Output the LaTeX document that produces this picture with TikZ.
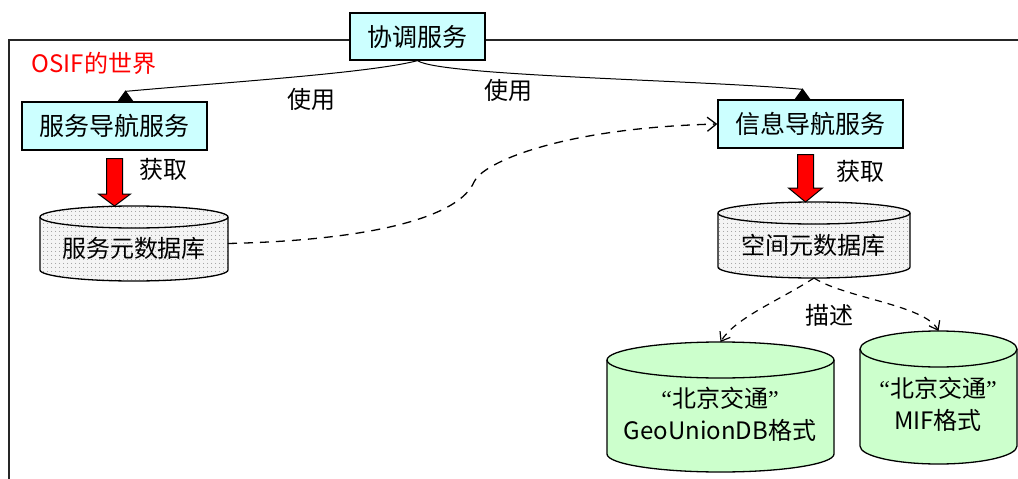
\documentclass[tikz,border=0pt]{standalone}
\usepackage{fontspec}
\setmainfont{Noto Sans CJK SC}
\newfontfamily\qfont{Liberation Serif}
\usetikzlibrary{arrows.meta,calc,patterns.meta}
\definecolor{boxcyan}{HTML}{CCFFFF}
\definecolor{dbgreen}{HTML}{CCFFCC}
\definecolor{dbgray}{HTML}{F4F4F4}
\tikzset{
  svcbox/.style={draw=black, line width=1.3pt, fill=boxcyan, font=\fontsize{25}{28}\selectfont, inner sep=0pt, anchor=center},
  lbl/.style={font=\fontsize{24}{28}\selectfont, inner sep=0pt},
  cyltext/.style={font=\fontsize{24}{32}\selectfont, inner sep=0pt, align=center},
  cylbody/.style={inner sep=0pt, outer sep=0pt},
  cylline/.style={draw=black, line width=1.3pt},
  graydb/.style={fill=dbgray, postaction={pattern={Dots[radius=0.6pt,distance=4pt]}, pattern color=black!45}},
  greendb/.style={fill=dbgreen},
  useline/.style={line width=1pt},
  usetri/.style={fill=black},
  depend/.style={line width=1.3pt, dash pattern=on 9pt off 7pt, -{Straight Barb[length=9pt,width=14pt]}},
  dependb/.style={line width=1.2pt, dash pattern=on 7pt off 6pt, -{Straight Barb[length=8pt,width=12pt]}},
  blockarr/.style={draw=black, line width=1pt, fill=red},
  frameline/.style={line width=1.3pt, draw=black!85},
}
% #1 name, #2 cx, #3 top, #4 bottom, #5 rx, #6 ry, #7 fill style
\newcommand\dbcyl[7]{%
  \path[#7] (#2-#5,#3+#6) -- (#2-#5,#4-#6) arc[start angle=180,end angle=360,x radius=#5pt,y radius=#6pt] -- (#2+#5,#3+#6) arc[start angle=0,end angle=180,x radius=#5pt,y radius=#6pt] -- cycle;
  \draw[cylline] (#2-#5,#3+#6) -- (#2-#5,#4-#6) arc[start angle=180,end angle=360,x radius=#5pt,y radius=#6pt] -- (#2+#5,#3+#6) arc[start angle=0,end angle=180,x radius=#5pt,y radius=#6pt] -- cycle;
  \draw[cylline] (#2-#5,#3+#6) arc[start angle=180,end angle=360,x radius=#5pt,y radius=#6pt];
  \node[cylbody, minimum width={2*#5pt}, minimum height={(#4-#3)*1pt}] (#1) at (#2,{(#3+#4)/2}) {};
}
% #1 start of shaft (top centre), #2 tip, #3 half shaft, #4 half head, #5 head length
\newcommand\blockarrow[5]{%
  \draw[blockarr] ($(#1)+(-#3,0)$) -- ($(#1)+(#3,0)$) -- ($(#2)+(#3,-#5)$) -- ($(#2)+(#4,-#5)$) -- (#2) -- ($(#2)+(-#4,-#5)$) -- ($(#2)+(-#3,-#5)$) -- cycle;
}
% upright filled triangle standing on point #1
\newcommand\usetriangle[1]{%
  \fill[usetri] ($(#1)+(-8,0)$) -- ($(#1)+(0,-11)$) -- ($(#1)+(8,0)$) -- cycle;
}
\begin{document}
\begin{tikzpicture}[x=1pt,y=-1pt]
\useasboundingbox (0,0) rectangle (1018,479);
\fill[white] (0,0) rectangle (1018,479);

% frame of the world
\draw[frameline] (1018,40) -- (9,40) -- (9,479);

% service boxes
\node[svcbox, minimum width=135pt, minimum height=47pt] (coord) at (417.5,36.5) {协调服务};
\node[svcbox, minimum width=185pt, minimum height=48pt] (nav1) at (114.5,126) {服务导航服务};
\node[svcbox, minimum width=185pt, minimum height=48pt] (nav2) at (810.5,124) {信息导航服务};

\node[lbl, text=red] (world) at (94,63) {OSIF的世界};

% databases
\dbcyl{db1}{134}{206}{281}{94}{11}{graydb}
\dbcyl{db2}{814}{202}{278}{96}{11}{graydb}
\dbcyl{geo}{720.5}{342}{472}{113.5}{18}{greendb}
\dbcyl{mif}{938.5}{331}{464}{78.5}{18}{greendb}

\node[lbl] (db1t) at (134,248) {服务元数据库};
\node[lbl] (db2t) at (813,245) {空间元数据库};
\node[cyltext] (geot) at (720,414) {{\qfont “}北京交通{\qfont ”}\\GeoUnionDB格式};
\node[cyltext] (mift) at (938,404) {{\qfont “}北京交通{\qfont ”}\\MIF格式};

% "use" connectors
\coordinate (u1) at ($(nav1.north)+(11,0)$);
\coordinate (u2) at ($(nav2.north)+(-8,0)$);
\draw[useline] (coord.south) .. controls (370,73) and (230,82) .. ($(u1)+(0,-10)$);
\usetriangle{u1}
\draw[useline] (coord.south) .. controls (440,76) and (700,80) .. ($(u2)+(0,-10)$);
\usetriangle{u2}
\node[lbl] (use1) at (311,99) {使用};
\node[lbl] (use2) at (508,90) {使用};

% "get" block arrows
\coordinate (a1s) at ($(nav1.south)+(0,8)$);
\coordinate (a1e) at (a1s |- db1.north);
\blockarrow{a1s}{a1e}{8}{16}{12}
\coordinate (a2s) at ($(nav2.south)+(-5,6)$);
\coordinate (a2e) at (a2s |- db2.north);
\blockarrow{a2s}{a2e}{8}{17}{14}
\node[lbl] (get1) at (163,169) {获取};
\node[lbl] (get2) at (860,171) {获取};

% dashed dependency from service metadata to information navigation
\coordinate (sbend) at (474,182);
\draw[depend] (db1.east) .. controls (380,240) and (460,215) .. (sbend) .. controls (482,163) and (560,128) .. (nav2.west);

% "describe" connectors
\draw[dependb] (db2.south) .. controls (780,300) and (735,318) .. (geo.north);
\draw[dependb] (db2.south) .. controls (845,298) and (925,305) .. (mif.north);
\node[lbl] (desc) at (829,315) {描述};
\end{tikzpicture}
\end{document}
